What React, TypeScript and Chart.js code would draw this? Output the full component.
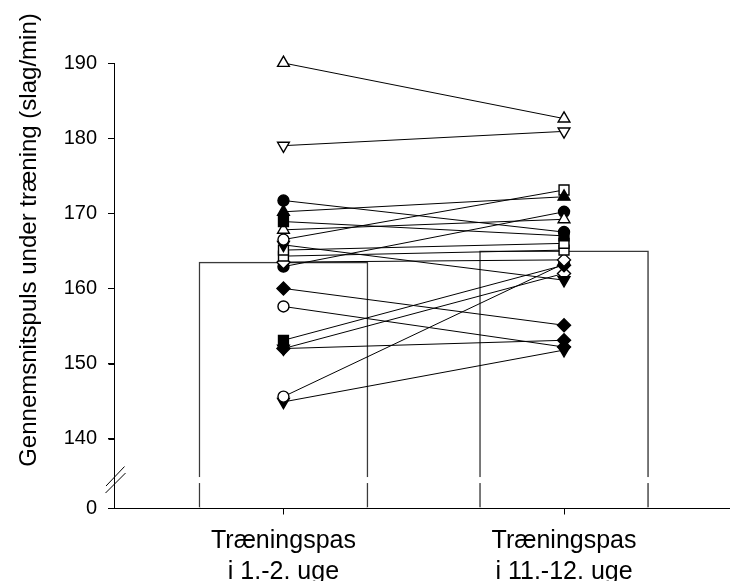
import React, { useEffect, useRef } from "react";
import { Chart, registerables } from "chart.js";

Chart.register(...registerables);

// ---------- data ----------
const categoryLabels = [
  ["Træningspas", "i 1.-2. uge"],
  ["Træningspas", "i 11.-12. uge"],
];
const categoryPositions = [1, 2];
const meanPulse = [163.5, 165.0];

const pulseWeek1 = [
  190.0, 179.0, 171.7, 170.2, 168.9, 167.8, 166.5, 165.8, 165.1, 164.3,
  163.5, 162.9, 160.0, 157.6, 153.1, 152.0, 152.0, 145.6, 144.9,
];
const pulseWeek12 = [
  182.6, 180.9, 167.5, 172.2, 167.0, 169.2, 173.1, 161.1, 166.0, 165.1,
  163.8, 170.2, 155.1, 152.2, 163.1, 153.1, 162.0, 163.3, 151.8,
];
// symbol codes: t=triangle up, d=triangle down, c=circle, s=square, r=diamond; o=open, f=filled
const symbolsWeek1 = [
  "to", "do", "cf", "tf", "sf", "to", "co", "df", "so", "so",
  "ro", "cf", "rf", "co", "sf", "rf", "do", "co", "df",
];
const symbolsWeek12 = [
  "to", "do", "cf", "tf", "sf", "to", "so", "df", "so", "so",
  "ro", "cf", "rf", "rf", "rf", "rf", "ro", "co", "df",
];
const yTickValues = [0, 140, 150, 160, 170, 180, 190];
const yAxisTitle = "Gennemsnitspuls under træning (slag/min)";

// ---------- axis geometry (broken axis) ----------
const ZERO_POS = 130.78; // where "0" is drawn on the broken axis
const BREAK_VALUE = 134.5;
const Y_MAX = 190;
const X_MIN = 0.396;
const X_MAX = 2.588;
const TICK_LEN = 6;
const FONT = '"Liberation Sans", Arial, Helvetica, sans-serif';

const toAxis = (v: number) => (v === 0 ? ZERO_POS : v);
const axisTicks = yTickValues.map(toAxis);

function symbolStyle(code: string) {
  const shape = code[0];
  const filled = code[1] === "f";
  let style = "circle";
  let rotation = 0;
  let radius = 5.5;
  if (shape === "t") { style = "triangle"; radius = 6.8; }
  if (shape === "d") { style = "triangle"; rotation = 180; radius = 6.8; }
  if (shape === "s") { style = "rect"; radius = 7; }
  if (shape === "r") { style = "rectRot"; radius = 6.5; }
  return { style, rotation, radius, fill: filled ? "#000" : "#fff" };
}

// tick marks, bar break gap and the "//" axis break
const axisDecorPlugin = {
  id: "axisDecor",
  afterDatasetsDraw(chart: any) {
    const ctx = chart.ctx;
    const yS = chart.scales.y;
    const xS = chart.scales.x;
    const yb = yS.getPixelForValue(BREAK_VALUE);
    ctx.save();
    ctx.fillStyle = "#fff";
    const meta = chart.getDatasetMeta(0);
    meta.data.forEach((bar: any) => {
      const { x, width } = bar.getProps(["x", "width"], true);
      ctx.fillRect(x - width / 2 - 3, yb - 3, width + 6, 6);
    });
    ctx.restore();
  },
  afterDraw(chart: any) {
    const ctx = chart.ctx;
    const yS = chart.scales.y;
    const xS = chart.scales.x;
    const ax = Math.round(xS.left) + 0.5;
    const ay = Math.round(yS.bottom) + 0.5;
    ctx.save();
    ctx.strokeStyle = "#000";
    ctx.lineWidth = 1;
    ctx.beginPath();
    axisTicks.forEach((v) => {
      const py = Math.round(yS.getPixelForValue(v)) + 0.5;
      ctx.moveTo(ax - TICK_LEN, py);
      ctx.lineTo(ax, py);
    });
    categoryPositions.forEach((v) => {
      const px = Math.round(xS.getPixelForValue(v)) + 0.5;
      ctx.moveTo(px, ay);
      ctx.lineTo(px, ay + TICK_LEN);
    });
    ctx.stroke();
    const yb = yS.getPixelForValue(BREAK_VALUE);
    ctx.beginPath();
    ctx.moveTo(ax - 8.5, yb + 6);
    ctx.lineTo(ax + 10, yb - 13.5);
    ctx.moveTo(ax - 9, yb + 13);
    ctx.lineTo(ax + 11, yb - 7);
    ctx.stroke();
    // rotated y-axis title
    const yc = (yS.getPixelForValue(190) + yS.getPixelForValue(130.9)) / 2 - 45;
    ctx.translate(29, yc);
    ctx.rotate(-Math.PI / 2);
    ctx.font = `24px ${FONT}`;
    ctx.fillStyle = "#000";
    ctx.textAlign = "center";
    ctx.textBaseline = "middle";
    ctx.fillText(yAxisTitle, 0, 0);
    ctx.restore();
  },
};

export default function App() {
  const canvasRef = useRef<HTMLCanvasElement | null>(null);

  useEffect(() => {
    const canvas = canvasRef.current;
    if (!canvas) return;

    const barDataset: any = {
      type: "bar",
      data: categoryPositions.map((x, i) => ({ x, y: meanPulse[i] })),
      base: toAxis(0),
      barThickness: 169,
      backgroundColor: "#ffffff",
      borderColor: "#3a3a3a",
      borderWidth: 1.5,
      borderSkipped: "bottom",
      order: 10,
      clip: false,
    };

    const lineDatasets: any[] = pulseWeek1.map((v1, i) => {
      const s1 = symbolStyle(symbolsWeek1[i]);
      const s2 = symbolStyle(symbolsWeek12[i]);
      return {
        type: "line",
        data: [
          { x: categoryPositions[0], y: v1 },
          { x: categoryPositions[1], y: pulseWeek12[i] },
        ],
        borderColor: "#000",
        borderWidth: 1,
        pointStyle: [s1.style, s2.style],
        pointRotation: [s1.rotation, s2.rotation],
        pointRadius: [s1.radius, s2.radius],
        pointBackgroundColor: [s1.fill, s2.fill],
        pointBorderColor: "#000",
        pointBorderWidth: 1.4,
        fill: false,
        tension: 0,
        order: 0,
        clip: false,
      };
    });

    const chart = new Chart(canvas, {
      type: "line",
      data: { datasets: [barDataset, ...lineDatasets] },
      options: {
        responsive: false,
        animation: false,
        layout: { autoPadding: false, padding: { top: 63, right: 1, left: 0, bottom: 0 } },
        plugins: {
          legend: { display: false },
          tooltip: { enabled: false },
          title: { display: false },
        },
        scales: {
          x: {
            type: "linear",
            min: X_MIN,
            max: X_MAX,
            offset: false,
            afterBuildTicks: (s: any) => {
              s.ticks = categoryPositions.map((v) => ({ value: v }));
            },
            afterFit: (s: any) => {
              s.height = 73;
              s.paddingLeft = 0;
              s.paddingRight = 0;
            },
            ticks: {
              autoSkip: false,
              maxRotation: 0,
              minRotation: 0,
              padding: 11,
              color: "#000",
              font: { family: FONT, size: 25, lineHeight: 1.25 },
              callback: (v: any) => {
                const i = categoryPositions.indexOf(Number(v));
                return i >= 0 ? categoryLabels[i] : "";
              },
            },
            grid: {
              offset: false,
              drawOnChartArea: false,
              drawTicks: true,
              tickLength: TICK_LEN,
              color: "#000",
              lineWidth: 1,
            },
            border: { display: true, color: "#000", width: 1 },
          },
          y: {
            type: "linear",
            min: ZERO_POS,
            max: Y_MAX,
            afterBuildTicks: (s: any) => {
              s.ticks = axisTicks.map((v) => ({ value: v }));
            },
            afterFit: (s: any) => {
              s.width = 114;
            },
            ticks: {
              padding: 11,
              color: "#000",
              font: { family: FONT, size: 20 },
              callback: (v: any) => {
                const i = axisTicks.findIndex((t) => Math.abs(t - Number(v)) < 1e-6);
                return i >= 0 ? String(yTickValues[i]) : "";
              },
            },
            grid: {
              drawOnChartArea: false,
              drawTicks: true,
              tickLength: TICK_LEN,
              color: "#000",
              lineWidth: 1,
            },
            border: { display: true, color: "#000", width: 1 },
          },
        },
      } as any,
      plugins: [axisDecorPlugin],
    });

    return () => chart.destroy();
  }, []);

  return (
    <div style={{ position: "fixed", left: 0, top: 0, width: 730, height: 581, background: "#fff" }}>
      <canvas ref={canvasRef} width={730} height={581} style={{ display: "block" }} />
    </div>
  );
}
